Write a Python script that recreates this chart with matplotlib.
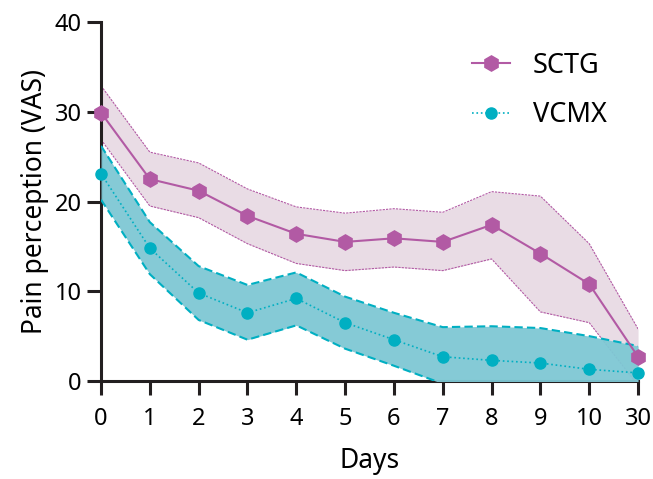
import matplotlib.pyplot as plt
import numpy as np

plt.rcParams['font.family'] = ['Noto Sans', 'DejaVu Sans']

days = ['0', '1', '2', '3', '4', '5', '6', '7', '8', '9', '10', '30']

sctg_mean = [29.9, 22.5, 21.2, 18.4, 16.4, 15.5, 15.9, 15.5, 17.4, 14.2, 10.8, 2.7]
sctg_upper = [32.9, 25.5, 24.3, 21.4, 19.4, 18.7, 19.2, 18.8, 21.1, 20.6, 15.3, 5.8]
sctg_lower = [26.9, 19.5, 18.2, 15.3, 13.1, 12.3, 12.7, 12.3, 13.6, 7.7, 6.5, -0.5]

vcmx_mean = [23.1, 14.8, 9.8, 7.6, 9.2, 6.5, 4.6, 2.7, 2.3, 2.0, 1.3, 0.9]
vcmx_upper = [26.2, 17.7, 12.8, 10.7, 12.1, 9.4, 7.6, 6.0, 6.1, 5.9, 5.0, 3.9]
vcmx_lower = [20.2, 11.9, 6.8, 4.6, 6.2, 3.6, 1.7, -0.3, -0.6, -1.0, -1.5, -2.0]

pink = '#B25AA4'
pink_fill = '#E9DCE5'
teal = '#00AFC2'
teal_fill = '#7EC8D4'

x = np.arange(len(days))

fig = plt.figure(figsize=(6.53, 4.79), dpi=100)
ax = fig.add_axes([0.1547, 0.2046, 0.8224, 0.7494])

# SCTG band
ax.fill_between(x, sctg_lower, sctg_upper, color=pink_fill, lw=0, zorder=1)
ax.plot(x, sctg_upper, color=pink, lw=0.8, ls=(0, (2, 1)), zorder=2)
ax.plot(x, sctg_lower, color=pink, lw=0.8, ls=(0, (2, 1)), zorder=2)

# VCMX band
ax.fill_between(x, vcmx_lower, vcmx_upper, color=teal_fill, alpha=0.95, lw=0, zorder=3)
ax.plot(x, vcmx_upper, color=teal, lw=1.5, ls=(0, (4, 2)), zorder=4)
ax.plot(x, vcmx_lower, color=teal, lw=1.5, ls=(0, (4, 2)), zorder=4)

ax.plot(x, sctg_mean, color=pink, lw=1.5, marker='h', ms=11, mec=pink,
        label='SCTG', zorder=6, clip_on=False)
ax.plot(x, vcmx_mean, color=teal, lw=1.2, ls=':', marker='o', ms=8, mec=teal,
        label='VCMX', zorder=5, clip_on=False)

ax.set_xlim(0, 11)
ax.set_ylim(0, 40)
ax.set_xticks(x)
ax.set_xticklabels(days)
ax.set_yticks([0, 10, 20, 30, 40])

for s in ['top', 'right']:
    ax.spines[s].set_visible(False)
for s in ['left', 'bottom']:
    ax.spines[s].set_linewidth(2.2)
    ax.spines[s].set_color('#231F20')
ax.tick_params(width=2.2, length=10, color='#231F20', labelsize=17, pad=4)
ax.tick_params(axis='x', pad=9)

ax.set_xlabel('Days', fontsize=19, labelpad=11)
ax.set_ylabel('Pain perception (VAS)', fontsize=19, labelpad=4)

leg = ax.legend(loc='upper left', bbox_to_anchor=(0.645, 0.985), frameon=False,
                fontsize=19.5, handlelength=1.4, labelspacing=0.8, handletextpad=0.85)

fig.savefig('out.png', dpi=100)
